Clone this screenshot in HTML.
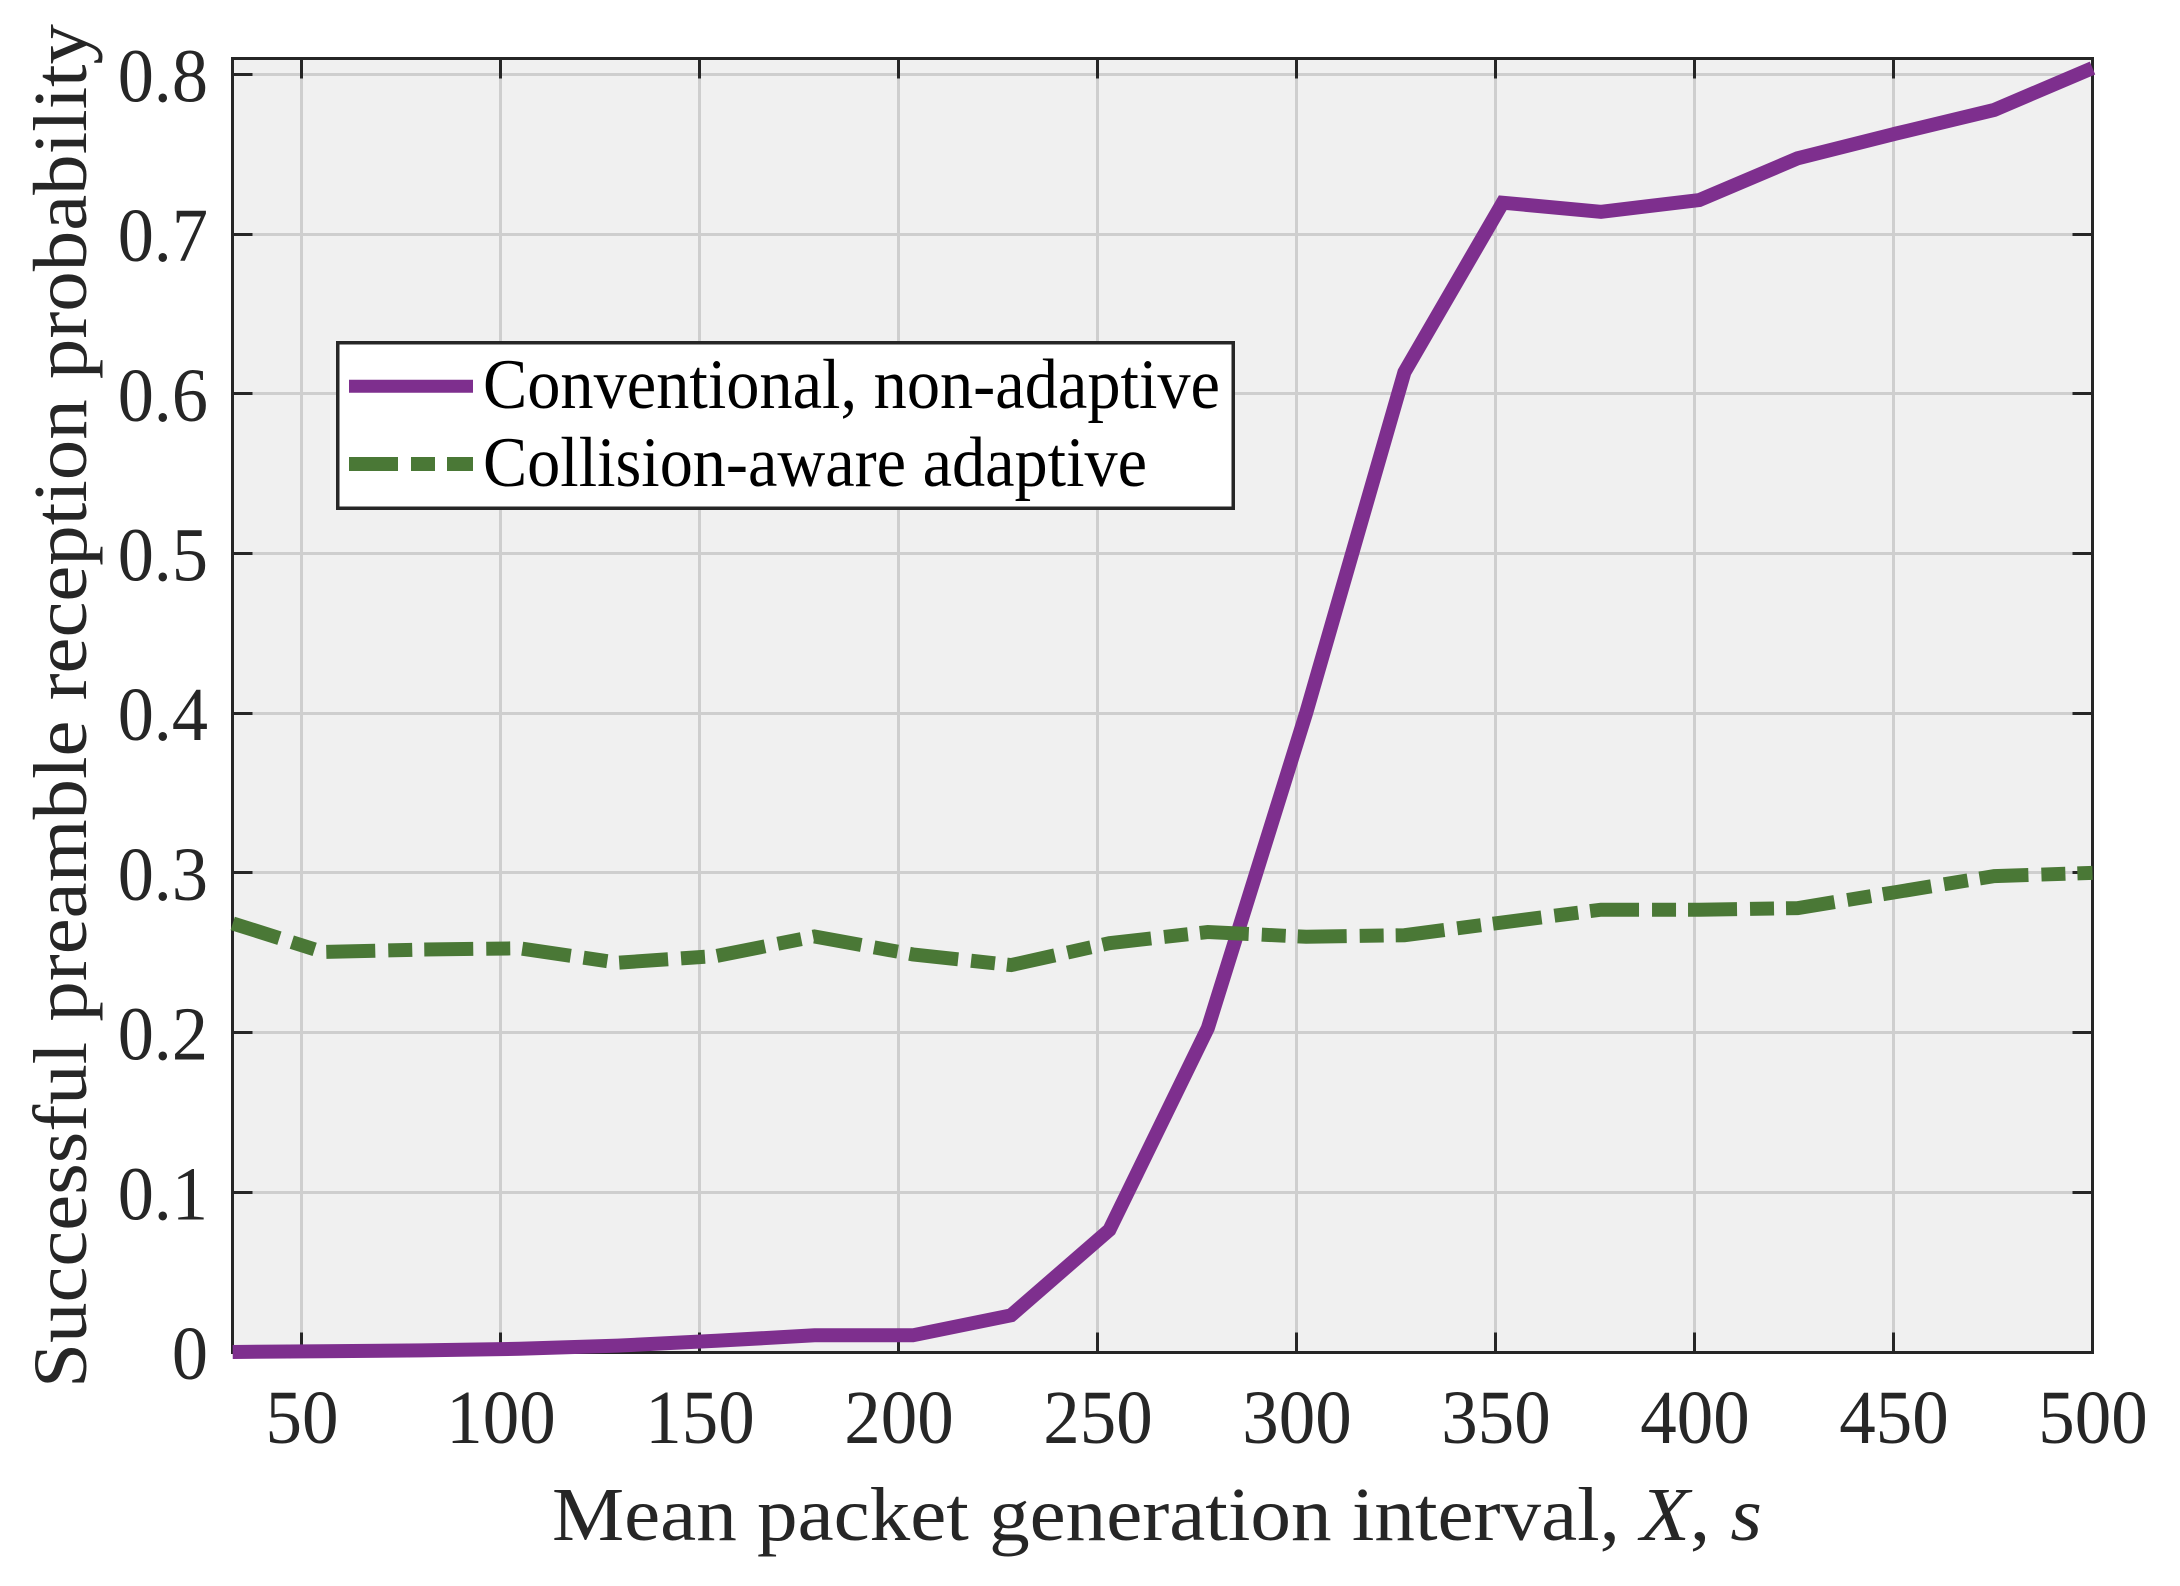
<!DOCTYPE html>
<html>
<head>
<meta charset="utf-8">
<title>Successful preamble reception probability</title>
<style>
html,body{margin:0;padding:0;background:#fff;width:2180px;height:1586px;overflow:hidden}
svg{display:block}
text{font-family:"Liberation Serif","Times New Roman",serif;fill:#262626}
</style>
</head>
<body>
<svg id="chart" xmlns="http://www.w3.org/2000/svg" width="2180" height="1586" viewBox="0 0 2180 1586"></svg>
<script>
const intervals = [32.7, 55.4, 80.1, 104.8, 129.5, 154.2, 178.9, 203.6, 228.3, 253, 277.7, 302.4, 327.1, 351.8, 376.5, 401.2, 425.9, 450.6, 475.3, 500];
const conventional = [0, 0.0005, 0.001, 0.002, 0.004, 0.007, 0.0105, 0.0105, 0.023, 0.0765, 0.2028, 0.4, 0.6135, 0.7197, 0.714, 0.7213, 0.7475, 0.763, 0.7778, 0.804];
const collisionAware = [0.2684, 0.2505, 0.252, 0.2528, 0.2438, 0.248, 0.2602, 0.249, 0.2423, 0.256, 0.263, 0.26, 0.261, 0.269, 0.277, 0.277, 0.278, 0.288, 0.298, 0.3];
const xTicks = [50, 100, 150, 200, 250, 300, 350, 400, 450, 500];
const yTicks = [0, 0.1, 0.2, 0.3, 0.4, 0.5, 0.6, 0.7, 0.8];
const yTickLabels = ['0', '0.1', '0.2', '0.3', '0.4', '0.5', '0.6', '0.7', '0.8'];
const xDomain = [32.66, 500];
const yDomain = [-0.0003, 0.81];

const NS = 'http://www.w3.org/2000/svg';
const svg = document.getElementById('chart');
const L = 232.5, R = 2092.5, T = 58.5, B = 1352.5;
const xs = v => L + (v - xDomain[0]) / (xDomain[1] - xDomain[0]) * (R - L);
const ys = v => B - (v - yDomain[0]) / (yDomain[1] - yDomain[0]) * (B - T);
const snap = v => Math.round(v - 0.5) + 0.5;
const INK = '#262626';
const PURPLE = '#7e2f8e';
const GREEN = '#4a7836';
const GRID = '#cecece';
const DASH = '49 13 24 12';
const LINE_W = 14;

function make(tag, attrs) {
  const el = document.createElementNS(NS, tag);
  for (const k in attrs) el.setAttribute(k, attrs[k]);
  svg.appendChild(el);
  return el;
}
function squeeze(el, factor) {
  el.setAttribute('textLength', (el.getComputedTextLength() * factor).toFixed(1));
  el.setAttribute('lengthAdjust', 'spacingAndGlyphs');
}

const bg = make('rect', {x: L, y: T, width: R - L, height: B - T, fill: '#f0f0f0'});



xTicks.forEach(t => {
  const g = make('line', {x1: snap(xs(t)), x2: snap(xs(t)), y1: T, y2: B, stroke: GRID, 'stroke-width': 3, 'shape-rendering': 'crispEdges'});
  
  
});
yTicks.forEach(t => {
  const g = make('line', {x1: L, x2: R, y1: snap(ys(t)), y2: snap(ys(t)), stroke: GRID, 'stroke-width': 3, 'shape-rendering': 'crispEdges'});
  
  
});

const TL = 20;
xTicks.forEach(t => {
  [[B, B - TL], [T, T + TL]].forEach(p => {
    const m = make('line', {x1: snap(xs(t)), x2: snap(xs(t)), y1: p[0], y2: p[1], stroke: INK, 'stroke-width': 3, 'shape-rendering': 'crispEdges'});
    
    
  });
  const lab = make('text', {x: xs(t) + 0.5, y: 1443, 'text-anchor': 'middle', 'font-size': 76});
  lab.textContent = String(t);
  
  
  squeeze(lab, 0.96);
});
yTicks.forEach((t, i) => {
  [[L, L + TL], [R, R - TL]].forEach(p => {
    const m = make('line', {x1: p[0], x2: p[1], y1: snap(ys(t)), y2: snap(ys(t)), stroke: INK, 'stroke-width': 3, 'shape-rendering': 'crispEdges'});
    
    
  });
  const lab = make('text', {x: 208, y: ys(t) + 27, 'text-anchor': 'end', 'font-size': 76});
  lab.textContent = yTickLabels[i];
  
  
  squeeze(lab, 0.95);
});

const frame = make('rect', {x: L, y: T, width: R - L, height: B - T, fill: 'none', stroke: INK, 'stroke-width': 3, 'shape-rendering': 'crispEdges'});



function linePoints(values) {
  return values.map((v, i) => xs(intervals[i]).toFixed(1) + ',' + ys(v).toFixed(1)).join(' ');
}
const line1 = make('polyline', {points: linePoints(conventional), fill: 'none', stroke: PURPLE, 'stroke-width': LINE_W, 'stroke-linejoin': 'miter'});


const line2 = make('polyline', {points: linePoints(collisionAware), fill: 'none', stroke: GREEN, 'stroke-width': LINE_W, 'stroke-linejoin': 'miter', 'stroke-dasharray': DASH});



const box = make('rect', {x: 337.5, y: 342.5, width: 895.5, height: 165.5, fill: '#fff', stroke: INK, 'stroke-width': 3.5, 'shape-rendering': 'crispEdges'});



const k1 = make('line', {x1: 349, x2: 473, y1: 386.3, y2: 386.3, stroke: PURPLE, 'stroke-width': 13});



const k2 = make('line', {x1: 349, x2: 473, y1: 464, y2: 464, stroke: GREEN, 'stroke-width': 14, 'stroke-dasharray': DASH});



const t1 = make('text', {x: 483, y: 408, 'font-size': 71, textLength: 737, lengthAdjust: 'spacingAndGlyphs', style: 'fill:#000'});
t1.textContent = 'Conventional, non-adaptive';



const t2 = make('text', {x: 483, y: 486, 'font-size': 71, textLength: 664, lengthAdjust: 'spacingAndGlyphs', style: 'fill:#000'});
t2.textContent = 'Collision-aware adaptive';



const yl = make('text', {transform: 'translate(86,1388) rotate(-90)', 'font-size': 76, textLength: 1364, lengthAdjust: 'spacingAndGlyphs'});
yl.textContent = 'Successful preamble reception probability';



const xl = make('text', {x: 552, y: 1540, 'font-size': 76, textLength: 1210, lengthAdjust: 'spacingAndGlyphs'});
xl.appendChild(document.createTextNode('Mean packet generation interval, '));
const xVar = document.createElementNS(NS, 'tspan');
xVar.setAttribute('font-style', 'italic');
xVar.textContent = 'X';
xl.appendChild(xVar);
xl.appendChild(document.createTextNode(', '));
const sVar = document.createElementNS(NS, 'tspan');
sVar.setAttribute('font-style', 'italic');
sVar.textContent = 's';
xl.appendChild(sVar);


</script>
</body>
</html>
